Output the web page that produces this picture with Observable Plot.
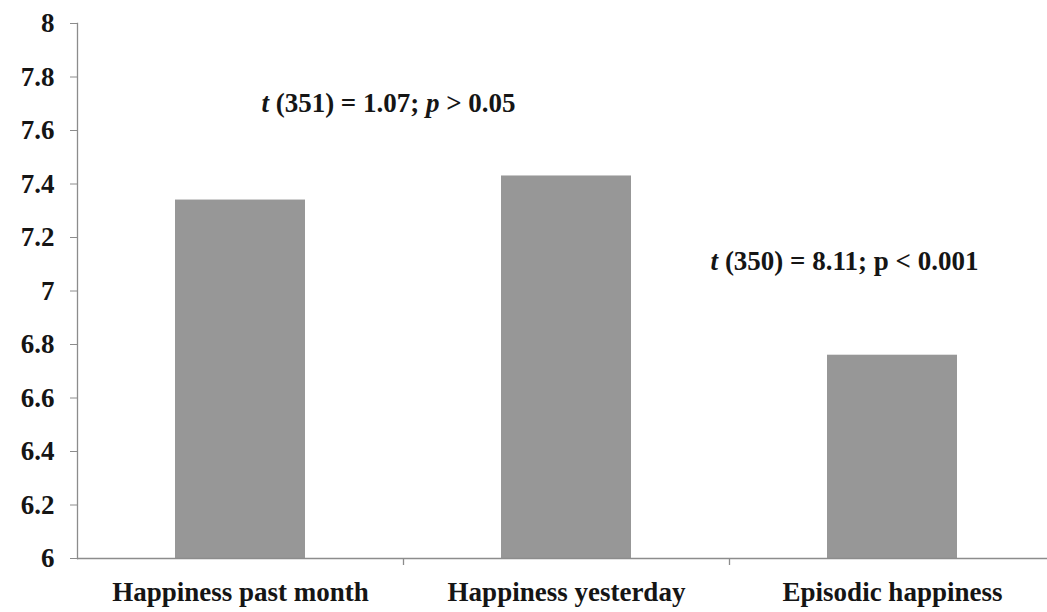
<!DOCTYPE html>
<html><head><meta charset="utf-8">
<script src="https://cdn.jsdelivr.net/npm/d3@7"></script>
<script src="https://cdn.jsdelivr.net/npm/@observablehq/plot@0.6"></script>
<style>body{margin:0;background:#fff} svg{display:block} svg text{font-family:"Liberation Serif", serif !important;}</style>
</head><body><div id="chart"></div>
<script>
const categories = ["Happiness past month", "Happiness yesterday", "Episodic happiness"];
const values = [7.34, 7.43, 6.76];
const yTicks = [6, 6.2, 6.4, 6.6, 6.8, 7, 7.2, 7.4, 7.6, 7.8, 8];
const yTickLabels = ["6", "6.2", "6.4", "6.6", "6.8", "7", "7.2", "7.4", "7.6", "7.8", "8"];
// annotation parts: [text, italic]
const annotationParts = [
  [["t", true], [" (351) = 1.07; ", false], ["p", true], [" > 0.05", false]],
  [["t", true], [" (350) = 8.11; p < 0.001", false]]
];
const annotationCategories = ["Happiness past month", "Episodic happiness"];
const annotationValues = [7.70, 7.11];

const bars = categories.map((c, i) => ({category: c, value: values[i]}));
const annotations = annotationParts.map((p, i) => ({
  text: p.map(d => d[0]).join(""), parts: p,
  category: annotationCategories[i], value: annotationValues[i]
}));

const font = "Liberation Serif";
const W = 1047, H = 612;
const xRange = [77, 1055];
const half = (xRange[1] - xRange[0]) / categories.length / 2;

const chart = Plot.plot({
  width: W, height: H,
  marginTop: 23, marginBottom: 54, marginLeft: 77, marginRight: 0,
  style: {fontFamily: font, fontWeight: "bold", fontSize: "26px", color: "#151515", background: "#fff"},
  x: {domain: categories, range: xRange, paddingInner: 0.6, paddingOuter: 0.3, label: null},
  y: {domain: [6, 8], label: null},
  marks: [
    Plot.barY(bars, {x: "category", y1: 6, y2: "value", fill: "#979797"}),
    Plot.ruleY([6], {stroke: "#8c8c8c", strokeWidth: 1.3}),
    Plot.frame({anchor: "left", stroke: "#8c8c8c", strokeWidth: 1.3}),
    Plot.axisY({ticks: yTicks, tickFormat: (d, i) => yTickLabels[i], tickSize: 7, tickPadding: 16,
      stroke: "#8c8c8c", fontSize: 27, fontFamily: font, fontWeight: "bold", label: null}),
    Plot.ruleX(categories, {x: d => d, dx: half, y1: 6, y2: 6, insetBottom: -7, stroke: "#8c8c8c", strokeWidth: 1.3}),
    Plot.axisX({tickSize: 0, tickPadding: 23, fontSize: 27, fontFamily: font, fontWeight: "bold", label: null}),
    Plot.text(annotations, {x: "category", y: "value", text: "text",
      fontSize: 27, fontFamily: font, fontWeight: "bold", fill: "#151515", className: "annot"})
  ]
});
document.getElementById("chart").append(chart);

// horizontal offsets of annotations from category centres, then italics
const annotDx = [148, -48];
d3.select(chart).selectAll(".annot text").each(function(d, i) {
  const el = d3.select(this);
  const parts = annotations[i].parts;
  el.attr("transform", (el.attr("transform") || "") + ` translate(${annotDx[i]},0)`);
  el.text(null);
  parts.forEach(([t, it]) => el.append("tspan").text(t).attr("font-style", it ? "italic" : null));
});
</script>
</body></html>
